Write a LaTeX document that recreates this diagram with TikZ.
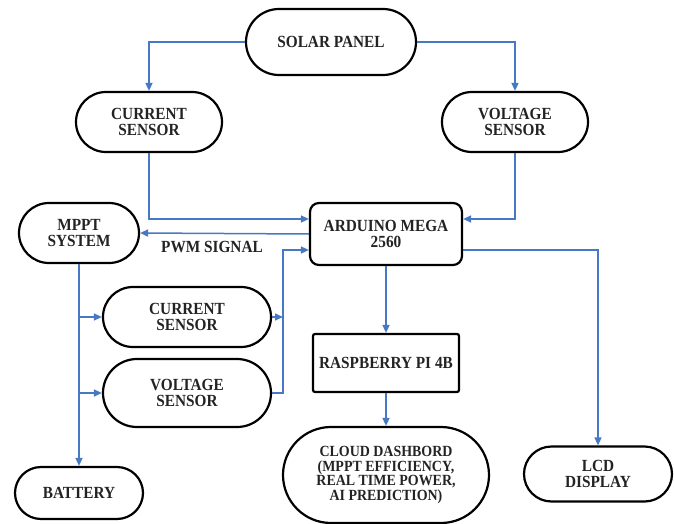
\documentclass[tikz,border=0pt]{standalone}
\usepackage{fontspec}
\setmainfont{Liberation Serif}[FakeStretch=0.9]
\usetikzlibrary{shapes.misc,arrows.meta,calc}
\definecolor{arrblue}{RGB}{70,120,195}
\definecolor{txt}{RGB}{35,35,35}
\begin{document}
\begin{tikzpicture}[x=1pt,y=-1pt,
  every node/.style={font=\fontsize{17}{15.5}\selectfont\bfseries, text=txt, align=center, inner sep=0pt},
  pill/.style={rounded rectangle, draw=black, line width=2.2pt},
  rbox/.style={rectangle, rounded corners=#1, draw=black, line width=2.2pt},
  arr/.style={draw=arrblue, line width=1.5pt, -{Triangle[length=8pt,width=7pt]}}
]
\useasboundingbox (0,0) rectangle (674,524);
\node[pill, minimum width=170pt, minimum height=66pt] (sp) at (331,42) {SOLAR PANEL};
\node[pill, minimum width=146pt, minimum height=60pt] (cs1) at (149,122) {CURRENT\\SENSOR};
\node[pill, minimum width=146pt, minimum height=60pt] (vs1) at (515,122) {VOLTAGE\\SENSOR};
\node[pill, minimum width=120pt, minimum height=60pt] (mppt) at (79,233) {MPPT\\SYSTEM};
\node[rbox=9pt, minimum width=152pt, minimum height=62pt] (ard) at (386,234) {ARDUINO MEGA\\2560};
\node[pill, minimum width=168pt, minimum height=60pt] (cs2) at (187,317) {CURRENT\\SENSOR};
\node[pill, minimum width=168pt, minimum height=68pt] (vs2) at (187,393) {VOLTAGE\\SENSOR};
\node[rbox=2pt, minimum width=146pt, minimum height=58pt] (rpi) at (386,363) {RASPBERRY PI 4B};
\node[pill, minimum width=206pt, minimum height=96pt, font=\fontsize{15.5}{14.7}\selectfont\bfseries] (cloud) at (386,475) {CLOUD DASHBORD\\(MPPT EFFICIENCY,\\REAL TIME POWER,\\AI PREDICTION)};
\node[pill, minimum width=148pt, minimum height=55pt] (lcd) at (598,474) {LCD\\DISPLAY};
\node[pill, minimum width=128pt, minimum height=52pt] (bat) at (79,493) {BATTERY};
\node (pwm) at (212,247) {PWM SIGNAL};

\draw[arr] (sp.west) -| (cs1.north);
\draw[arr] (sp.east) -| (vs1.north);
\draw[arr] (cs1.south) |- ([yshift=15pt]ard.west);
\draw[arr] (vs1.south) |- ([yshift=15pt]ard.east);
\draw[arr] (ard.west) -- (mppt.east);
\draw[arr] ([yshift=-16pt]ard.east) -| (lcd.north);
\draw[arr] (ard.south) -- (rpi.north);
\draw[arr] (rpi.south) -- (cloud.north);
\draw[arr] (mppt.south) -- (bat.north);
\draw[arr] (mppt.south |- cs2.west) -- (cs2.west);
\draw[arr] (mppt.south |- vs2.west) -- (vs2.west);
\coordinate (bx) at (283,317);
\draw[arr] (cs2.east) -- (bx);
\draw[arr] (vs2.east) -| (bx) |- ([yshift=-16pt]ard.west);
\end{tikzpicture}
\end{document}
